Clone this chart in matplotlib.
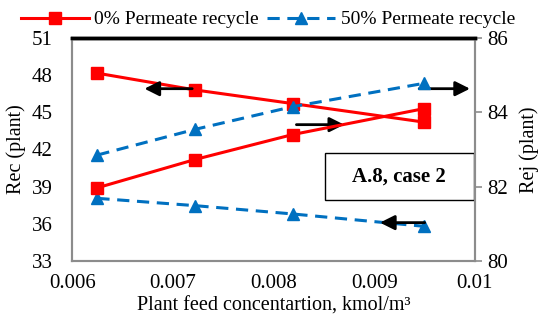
import matplotlib.pyplot as plt
from matplotlib.patches import Rectangle

plt.rcParams['font.family'] = ['Liberation Serif', 'DejaVu Serif']

# feed concentration, kmol/m3
conc = [0.00625, 0.00722, 0.00819, 0.0095]

# 0% permeate recycle
rec_0 = [48.15, 46.8, 45.7, 44.2]      # left axis
rej_0 = [81.97, 82.73, 83.4, 84.1]     # right axis

# 50% permeate recycle
rec_50 = [38.06, 37.47, 36.8, 35.8]    # left axis
rej_50 = [82.85, 83.54, 84.15, 84.78]  # right axis

red = '#FF0000'
blue = '#0070C0'
grey = '#8C8C8C'

fig = plt.figure(figsize=(5.47, 3.18), dpi=100)
ax = fig.add_axes([0.132, 0.179, 0.736, 0.702])
ax2 = ax.twinx()

l1, = ax.plot(conc, rec_0, color=red, lw=2.2, marker='s', ms=8,
              label='0% Permeate recycle')
ax.plot(conc, rec_50, color=blue, lw=2.2, ls=(0, (4, 2.5)), marker='^', ms=8)
ax2.plot(conc, rej_0, color=red, lw=2.2, marker='s', ms=8)
l2, = ax2.plot(conc, rej_50, color=blue, lw=2.2, ls=(0, (4, 2.5)), marker='^', ms=8,
               label='50% Permeate recycle')

ax.set_xlim(0.006, 0.01)
ax.set_ylim(33, 51)
ax2.set_ylim(80, 86)
ax.set_xticks([0.006, 0.007, 0.008, 0.009, 0.01])
ax.set_xticklabels(['0.006', '0.007', '0.008', '0.009', '0.01'])
ax.set_yticks([33, 36, 39, 42, 45, 48, 51])
ax2.set_yticks([80, 82, 84, 86])

for a in (ax, ax2):
    for s in ('left', 'right', 'bottom'):
        a.spines[s].set_color(grey)
        a.spines[s].set_linewidth(1.5)
    a.spines['top'].set_color('black')
    a.spines['top'].set_linewidth(2.5)
    a.tick_params(labelsize=15, colors='black', length=4, width=1.2)
    a.tick_params(axis='both', color=grey)
ax.tick_params(axis='x', length=0, pad=9)
ax.tick_params(axis='y', length=0, pad=14)
ax2.tick_params(axis='y', length=5, pad=4)

ax.set_xlabel('Plant feed concentartion, kmol/m³', fontsize=14.5, labelpad=3)
ax.set_ylabel('Rec (plant)', fontsize=14.5, labelpad=4)
ax2.set_ylabel('Rej (plant)', fontsize=14.5, labelpad=8)

arrow = dict(arrowstyle='-|>', lw=2, color='black', mutation_scale=22)
ax.annotate('', xy=(0.00669, 46.9), xytext=(0.00722, 46.9), arrowprops=arrow)
ax.annotate('', xy=(0.00873, 44.0), xytext=(0.0082, 44.0), arrowprops=arrow)
ax.annotate('', xy=(0.00998, 46.9), xytext=(0.00942, 46.9), arrowprops=arrow)
ax.annotate('', xy=(0.00903, 36.1), xytext=(0.00953, 36.1), arrowprops=arrow)

ax.add_patch(Rectangle((0.627, 0.273), 0.371, 0.213, transform=ax.transAxes,
                       fc='white', ec='black', lw=1, zorder=5))
ax.text(0.812, 0.38, 'A.8, case 2', transform=ax.transAxes, fontsize=15,
        fontweight='bold', ha='center', va='center', zorder=6)

fig.legend(handles=[l1, l2], loc='upper left', bbox_to_anchor=(0.018, 1.0),
           ncol=2, frameon=False, fontsize=14, handlelength=3.5,
           columnspacing=0.4, handletextpad=0.3, borderaxespad=0.15)

fig.savefig('out.png', dpi=100)
